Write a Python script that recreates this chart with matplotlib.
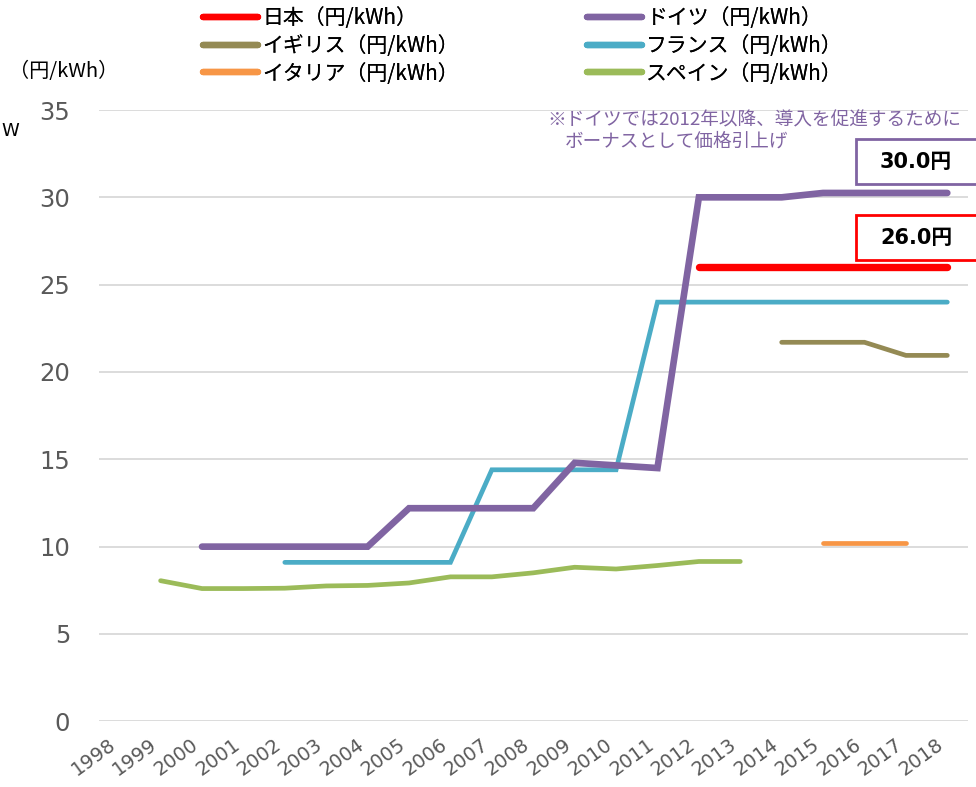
import numpy as np
import matplotlib
matplotlib.use("Agg")
import matplotlib.pyplot as plt
from matplotlib.patches import Rectangle
from matplotlib.transforms import ScaledTranslation

plt.rcParams['font.family'] = ['DejaVu Sans', 'Noto Sans CJK JP']

nan = np.nan
years = [str(y) for y in range(1998, 2019)]

japan   = [nan]*14 + [26.0]*7
germany = [nan, nan, 10.0, 10.0, 10.0, 10.0, 10.0, 12.2, 12.2, 12.2, 12.2,
           14.8, 14.65, 14.5, 30.0, 30.0, 30.0, 30.25, 30.25, 30.25, 30.25]
uk      = [nan]*16 + [21.7, 21.7, 21.7, 20.95, 20.95]
france  = [nan]*4 + [9.1]*5 + [14.4]*4 + [24.0]*8
italy   = [nan]*17 + [10.2, 10.2, 10.2, nan]
spain   = [nan, 8.05, 7.6, 7.6, 7.62, 7.75, 7.78, 7.92, 8.27, 8.27, 8.5,
           8.82, 8.72, 8.92, 9.15, 9.15, nan, nan, nan, nan, nan]

labels = ['日本（円/kWh）', 'ドイツ（円/kWh）', 'イギリス（円/kWh）',
          'フランス（円/kWh）', 'イタリア（円/kWh）', 'スペイン（円/kWh）']
colors = ['#FF0000', '#8064A2', '#948A54', '#4BACC6', '#F79646', '#9BBB59']
yticks = [0, 5, 10, 15, 20, 25, 30, 35]

W, H = 976, 787
fig = plt.figure(figsize=(W/100, H/100), dpi=100)
ax = fig.add_axes([98.5/W, (H-721.3)/H, (968-98.5)/W, (721.3-110)/H])

x = np.arange(len(years))
series = [japan, germany, uk, france, italy, spain]
lws = [5.3, 4.8, 3.4, 3.4, 3.4, 3.4]
order = [5, 4, 2, 3, 1, 0]
lines = {}
for i in order:
    ln, = ax.plot(x, series[i], color=colors[i], lw=lws[i],
                  solid_capstyle='round', solid_joinstyle='miter',
                  label=labels[i], zorder=3 + (6 - i) * 0.1)
    lines[i] = ln

ax.set_xlim(-0.5, len(years) - 0.5)
ax.set_ylim(0, 35)
ax.set_yticks(yticks)
ax.set_xticks(x)
ax.set_xticklabels(years, rotation=36, ha='right', rotation_mode='default')
off = ScaledTranslation(5/100, 0, fig.dpi_scale_trans)
for lab in ax.get_xticklabels():
    lab.set_transform(lab.get_transform() + off)
for s in ax.spines.values():
    s.set_visible(False)
ax.grid(axis='y', color='#D9D9D9', lw=1.3, zorder=0)
ax.tick_params(axis='y', length=0, pad=20.5, labelsize=17.5, labelcolor='#595959')
ax.tick_params(axis='x', length=0, pad=10, labelsize=14, labelcolor='#595959')

# legends
lp = dict(family=['Noto Sans CJK JP', 'DejaVu Sans'], size=15)
for col, (xpos, idxs) in enumerate([(203, [0, 2, 4]), (587, [1, 3, 5])]):
    leg = fig.legend([lines[i] for i in idxs], [labels[i] for i in idxs],
                     loc='upper left', bbox_to_anchor=(xpos/W, 1 - 7/H),
                     frameon=False, borderpad=0, borderaxespad=0,
                     handlelength=2.65, handletextpad=0.2,
                     labelspacing=0.28, prop=lp)
    for h in leg.legend_handles:
        h.set_linewidth(4.6)
        h.set_solid_capstyle('round')
    fig.add_artist(leg)

fig.text(9/W, 1 - 72/H, '（円/kWh）', ha='left', va='center', fontsize=14.5,
         family=['Noto Sans CJK JP', 'DejaVu Sans'])
fig.text(1/W, 1 - 131/H, 'W', ha='left', va='center', fontsize=13)

ann_font = ['Noto Sans CJK JP', 'DejaVu Sans']
fig.text(547/W, 1 - 120/H, '※ドイツでは2012年以降、導入を促進するために',
         ha='left', va='center', fontsize=13.4, color='#8064A2', family=ann_font)
fig.text(565/W, 1 - 142/H, 'ボーナスとして価格引上げ',
         ha='left', va='center', fontsize=13.4, color='#8064A2', family=ann_font)

# value boxes
for (top, bot, ec, txt) in [(139, 184, '#8064A2', '30.0円'), (215, 260, '#FF0000', '26.0円')]:
    r = Rectangle((856/W, 1 - bot/H), 140/W, (bot - top)/H, transform=fig.transFigure,
                  facecolor='white', edgecolor=ec, lw=2.0, zorder=5)
    fig.add_artist(r)
    fig.text(916/W, 1 - (top + bot)/2/H, txt, ha='center', va='center', fontsize=15,
             fontweight='bold', family=['DejaVu Sans', 'Noto Sans CJK JP'], zorder=6)

fig.savefig('out.png', dpi=100)
